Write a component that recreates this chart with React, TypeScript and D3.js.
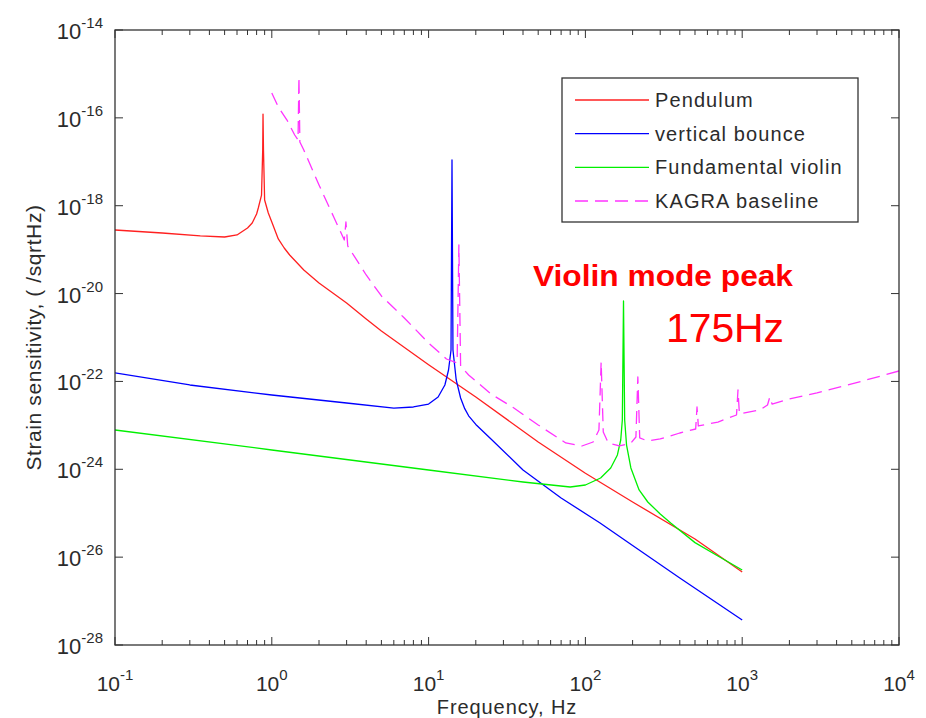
import React, { useEffect, useRef } from "react"
import * as d3 from "d3"

// values
const pendulumFreq = [0.1, 0.2, 0.35, 0.5, 0.6, 0.7, 0.75, 0.8, 0.82, 0.86, 0.875, 0.879, 0.885, 0.9, 0.95, 1.0, 1.1, 1.2, 1.3, 1.6, 2, 2.5, 3, 4, 5, 10, 20, 50, 100, 200, 500, 1000]
const pendulumValue = [2.8e-19, 2.39e-19, 2.05e-19, 1.94e-19, 2.16e-19, 3.11e-19, 4.05e-19, 6.49e-19, 8.87e-19, 1.75e-18, 1.85e-17, 1.22e-16, 1.85e-17, 1.35e-18, 6.82e-19, 4.26e-19, 1.75e-19, 1.09e-19, 7.55e-20, 3.44e-20, 1.74e-20, 9.77e-21, 6.11e-21, 2.64e-21, 1.41e-21, 2.4e-22, 4.43e-23, 4.18e-24, 8.11e-25, 1.8e-25, 2.59e-26, 4.59e-27]

const bounceFreq = [0.1, 0.3, 1, 3, 6, 8, 10, 11.5, 12.7, 13.4, 13.9, 14.1, 14.3, 15, 16, 17, 18, 20, 25, 40, 70, 124, 200, 400, 1000]
const bounceValue = [1.56e-22, 8.3e-23, 4.91e-23, 3.23e-23, 2.48e-23, 2.62e-23, 3.06e-23, 4.43e-23, 8.3e-23, 1.82e-22, 5.2e-22, 1.1e-17, 5.2e-22, 1.08e-22, 4.2e-23, 2.4e-23, 1.65e-23, 1.05e-23, 4.9e-24, 9.64e-25, 2.22e-25, 6.0e-26, 1.84e-26, 3.36e-27, 3.71e-28]

const violinFreq = [0.1, 1, 10, 40, 80, 100, 125, 145, 160, 168, 172, 175, 178, 183, 195, 220, 250, 300, 350, 500, 700, 1000]
const violinValue = [7.85e-24, 2.75e-24, 9.64e-25, 5.14e-25, 3.95e-25, 4.39e-25, 6.34e-25, 1.07e-24, 2.12e-24, 4.64e-24, 1.32e-23, 6.78e-21, 1.32e-23, 3.57e-24, 1.07e-24, 3.38e-25, 1.8e-25, 9.6e-26, 6.0e-26, 2.14e-26, 1.06e-26, 5.11e-27]

const kagraFreq = [1.0, 1.1, 1.25, 1.4, 1.47, 1.49, 1.51, 1.6, 2.0, 2.5, 2.9, 2.97, 3.05, 4, 5, 7, 10, 13, 15.2, 15.6, 16, 18, 25, 35, 50, 75, 95, 112, 122, 126, 130, 140, 165, 195, 210, 216, 222, 250, 300, 400, 505, 515, 525, 700, 920, 940, 960, 1300, 1450, 1500, 1550, 2000, 3000, 5000, 10000]
const kagraValue = [3.68e-16, 1.77e-16, 8.93e-17, 4.07e-17, 3.13e-17, 8.51e-16, 2.82e-17, 1.85e-17, 2.96e-18, 5.25e-19, 1.66e-19, 4.26e-19, 1.21e-19, 2.65e-20, 8.81e-21, 2.78e-21, 7.5e-22, 3.24e-22, 2.63e-22, 1.28e-19, 2.24e-22, 1.4e-22, 5.18e-23, 2.48e-23, 1.02e-23, 3.97e-24, 3.39e-24, 4.18e-24, 7.85e-24, 2.77e-22, 7.06e-24, 3.97e-24, 3.39e-24, 3.97e-24, 5.43e-24, 1.26e-22, 5.16e-24, 4.41e-24, 4.9e-24, 6.7e-24, 8.26e-24, 2.62e-23, 9.68e-24, 1.19e-23, 1.72e-23, 6.38e-23, 1.82e-23, 2.24e-23, 2.91e-23, 4.43e-23, 3.06e-23, 3.98e-23, 5.46e-23, 8.75e-23, 1.73e-22]

const xTickExponents = [-1, 0, 1, 2, 3, 4]
const yTickExponents = [-14, -16, -18, -20, -22, -24, -26, -28]

const seriesNames = ["Pendulum", "vertical bounce", "Fundamental violin", "KAGRA baseline"]
const seriesColors = ["#ff2020", "#0000ff", "#00f000", "#ff33ff"]

const width = 926
const height = 718
const plot = { left: 115, right: 899, top: 30, bottom: 645 }
const font = "'Liberation Sans', Arial, sans-serif"
const textColor = "#2b2b2b"

const drawChart = (svgEl: SVGSVGElement) => {
  const svg = d3.select(svgEl)
  svg.selectAll("*").remove()

  const x = d3.scaleLog().domain([0.1, 1e4]).range([plot.left, plot.right])
  const y = d3.scaleLog().domain([1e-28, 1e-14]).range([plot.bottom, plot.top])

  svg.append("rect").attr("width", width).attr("height", height).attr("fill", "#fff")

  svg
    .append("defs")
    .append("clipPath")
    .attr("id", "plotclip")
    .append("rect")
    .attr("x", plot.left)
    .attr("y", plot.top)
    .attr("width", plot.right - plot.left)
    .attr("height", plot.bottom - plot.top)

  // curves
  const line = d3
    .line<[number, number]>()
    .x(d => x(d[0]))
    .y(d => y(d[1]))

  const series = [
    d3.zip(pendulumFreq, pendulumValue),
    d3.zip(bounceFreq, bounceValue),
    d3.zip(violinFreq, violinValue),
    d3.zip(kagraFreq, kagraValue)
  ] as [number, number][][]

  const curves = svg.append("g").attr("clip-path", "url(#plotclip)")
  series.forEach((s, i) => {
    curves
      .append("path")
      .attr("d", line(s))
      .attr("fill", "none")
      .attr("stroke", seriesColors[i])
      .attr("stroke-width", 1.3)
      .attr("stroke-linejoin", "round")
      .attr("stroke-dasharray", i === 3 ? "13,7" : null)
  })

  // axes box
  const axisColor = "#333"
  svg
    .append("rect")
    .attr("x", plot.left)
    .attr("y", plot.top)
    .attr("width", plot.right - plot.left)
    .attr("height", plot.bottom - plot.top)
    .attr("fill", "none")
    .attr("stroke", axisColor)
    .attr("stroke-width", 1.3)

  const ticks = svg.append("g").attr("stroke", axisColor).attr("stroke-width", 1)

  // x ticks: majors at decades, minors 2..9
  const xMinor: number[] = []
  xTickExponents.slice(0, -1).forEach(e => {
    for (let m = 2; m <= 9; m++) xMinor.push(m * Math.pow(10, e))
  })
  const xMajor = xTickExponents.map(e => Math.pow(10, e))
  ;[...xMajor.map(v => [v, 8]), ...xMinor.map(v => [v, 5])].forEach(([v, len]) => {
    const px = x(v)
    ticks.append("line").attr("x1", px).attr("x2", px).attr("y1", plot.bottom).attr("y2", plot.bottom - len)
    ticks.append("line").attr("x1", px).attr("x2", px).attr("y1", plot.top).attr("y2", plot.top + len)
  })

  yTickExponents.forEach(e => {
    const py = y(Math.pow(10, e))
    ticks.append("line").attr("x1", plot.left).attr("x2", plot.left + 8).attr("y1", py).attr("y2", py)
    ticks.append("line").attr("x1", plot.right).attr("x2", plot.right - 8).attr("y1", py).attr("y2", py)
  })

  // tick labels
  const labels = svg.append("g").attr("font-family", font).attr("fill", textColor)
  xTickExponents.forEach(e => {
    const t = labels
      .append("text")
      .attr("x", x(Math.pow(10, e)))
      .attr("y", 691)
      .attr("text-anchor", "middle")
      .attr("font-size", 21)
    t.append("tspan").text("10")
    t.append("tspan").attr("dy", -11).attr("font-size", 15).text(String(e))
  })
  yTickExponents.forEach(e => {
    const t = labels
      .append("text")
      .attr("x", 103)
      .attr("y", y(Math.pow(10, e)) + 9)
      .attr("text-anchor", "end")
      .attr("font-size", 22)
    t.append("tspan").text("10")
    t.append("tspan").attr("dy", -11).attr("font-size", 15).text(String(e))
  })

  // axis titles
  labels
    .append("text")
    .attr("x", (plot.left + plot.right) / 2)
    .attr("y", 714)
    .attr("text-anchor", "middle")
    .attr("font-size", 20)
    .attr("letter-spacing", 0.9)
    .text("Frequency, Hz")
  labels
    .append("text")
    .attr("transform", `translate(41,${(plot.top + plot.bottom) / 2}) rotate(-90)`)
    .attr("text-anchor", "middle")
    .attr("font-size", 21)
    .attr("letter-spacing", 0.6)
    .text("Strain sensitivity, ( /sqrtHz)")

  // legend
  const legend = svg.append("g")
  legend
    .append("rect")
    .attr("x", 562)
    .attr("y", 78)
    .attr("width", 296)
    .attr("height", 144)
    .attr("fill", "#fff")
    .attr("stroke", axisColor)
    .attr("stroke-width", 1.3)
  const rowY = d3.scalePoint<string>().domain(seriesNames).range([100, 201])
  seriesNames.forEach((name, i) => {
    const ry = rowY(name) as number
    legend
      .append("line")
      .attr("x1", 575)
      .attr("x2", 649)
      .attr("y1", ry)
      .attr("y2", ry)
      .attr("stroke", seriesColors[i])
      .attr("stroke-width", 1.3)
      .attr("stroke-dasharray", i === 3 ? "13,7" : null)
    legend
      .append("text")
      .attr("x", 655)
      .attr("y", ry + 7)
      .attr("font-family", font)
      .attr("font-size", 20)
      .attr("letter-spacing", 1.1)
      .attr("fill", textColor)
      .text(name)
  })

  // annotation
  svg
    .append("text")
    .attr("x", 533)
    .attr("y", 286)
    .attr("font-family", font)
    .attr("font-weight", "bold")
    .attr("font-size", 29)
    .attr("fill", "#ff0000")
    .attr("textLength", 260)
    .attr("lengthAdjust", "spacingAndGlyphs")
    .text("Violin mode peak")
  svg
    .append("text")
    .attr("x", 666)
    .attr("y", 342)
    .attr("font-family", font)
    .attr("font-size", 41)
    .attr("fill", "#ff0000")
    .attr("textLength", 118)
    .attr("lengthAdjust", "spacingAndGlyphs")
    .text("175Hz")
}

export default function App() {
  const ref = useRef<SVGSVGElement>(null)
  useEffect(() => {
    if (ref.current) drawChart(ref.current)
  }, [])

  return (
    <svg
      ref={ref}
      width={width}
      height={height}
      style={{ position: "absolute", left: 0, top: 0, display: "block" }}
    ></svg>
  )
}
